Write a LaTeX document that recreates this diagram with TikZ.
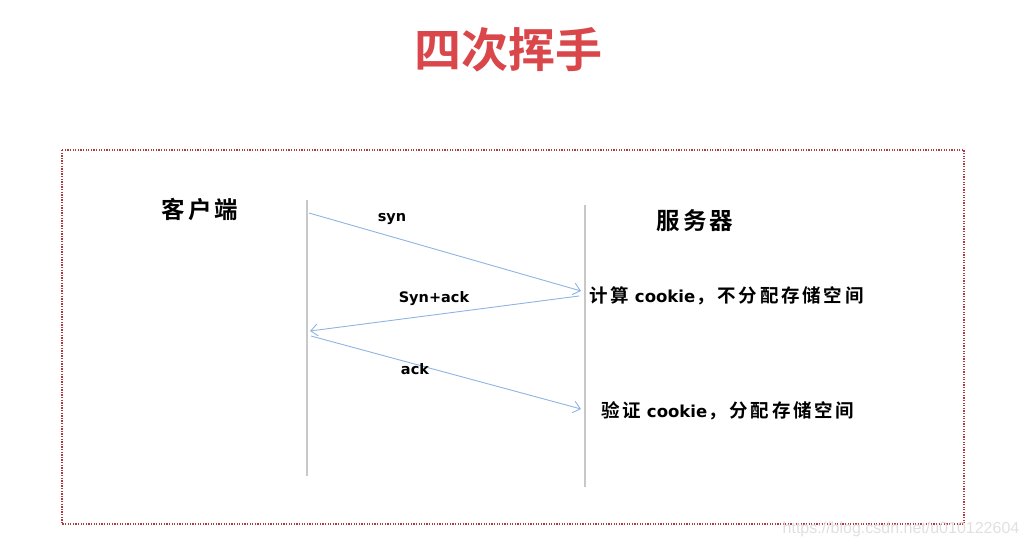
\documentclass[tikz,border=0pt]{standalone}
\usepackage{fontspec}
\newfontfamily\cjkb{Noto Sans CJK SC Bold}
\newfontfamily\cjksp[LetterSpace=12]{Noto Sans CJK SC Bold}
\newfontfamily\cjknote[LetterSpace=15]{Noto Sans CJK SC Bold}
\newfontfamily\latb{DejaVu Sans Bold}
\usetikzlibrary{arrows.meta}
\definecolor{titlered}{HTML}{D9474B}
\definecolor{boxred}{HTML}{B03A3E}
\definecolor{msgblue}{HTML}{8DB4E2}
\definecolor{lifegray}{HTML}{C8C8C8}
\newcommand{\ck}{{\latb\fontsize{16.5}{18}\selectfont cookie}}
\begin{document}
\begin{tikzpicture}[x=1pt,y=-1pt,
  lifeline/.style={draw=lifegray,line width=1.8pt},
  msg/.style={draw=msgblue,line width=0.9pt,-{Straight Barb[length=7pt,width=12pt]}},
  lbl/.style={font=\latb\fontsize{14.5}{17}\selectfont,inner sep=0pt},
  actor/.style={font=\cjksp\fontsize{23.5}{26}\selectfont,inner sep=0pt},
  note/.style={font=\cjknote\fontsize{18.5}{20}\selectfont,inner sep=0pt,anchor=west}]
\useasboundingbox (0,0) rectangle (1029,547);
\node[font=\cjkb\fontsize{47}{50}\selectfont,text=titlered,inner sep=0pt] (title) at (508,50) {四次挥手};
\draw[boxred,line width=1.3pt,dash pattern=on 1.3pt off 1.3pt] (62,150) rectangle (964,524);
\coordinate (c1) at (307,200);
\coordinate (c2) at (307,476);
\coordinate (s1) at (585,205);
\coordinate (s2) at (585,487);
\draw[lifeline] (c1) -- (c2);
\draw[lifeline] (s1) -- (s2);
\node[actor] (client) at (200,210) {客户端};
\node[actor] (server) at (695,221) {服务器};
\coordinate (a1s) at (309,213);
\coordinate (a1e) at (581,291);
\coordinate (a2s) at (579,296);
\coordinate (a2e) at (310,331);
\coordinate (a3s) at (311,336);
\coordinate (a3e) at (581,409);
\draw[msg] (a1s) -- (a1e);
\draw[msg] (a2s) -- (a2e);
\draw[msg] (a3s) -- (a3e);
\node[lbl] (syn) at (392,219) {syn};
\node[lbl] (synack) at (434,299) {Syn+ack};
\node[lbl] (ack) at (415,369) {ack};
\node[note] (n1) at (589,296) {计算\hspace{6pt}\ck\hspace{1pt}，不分配存储空间};
\node[note] (n2) at (601,411) {验证\hspace{6pt}\ck\hspace{1pt}，分配存储空间};
\node[font=\fontspec{Liberation Sans}\fontsize{16}{18}\selectfont,text=black!12,inner sep=0pt] (wm) at (901,529) {https://blog.csdn.net/u010122604};
\end{tikzpicture}
\end{document}
